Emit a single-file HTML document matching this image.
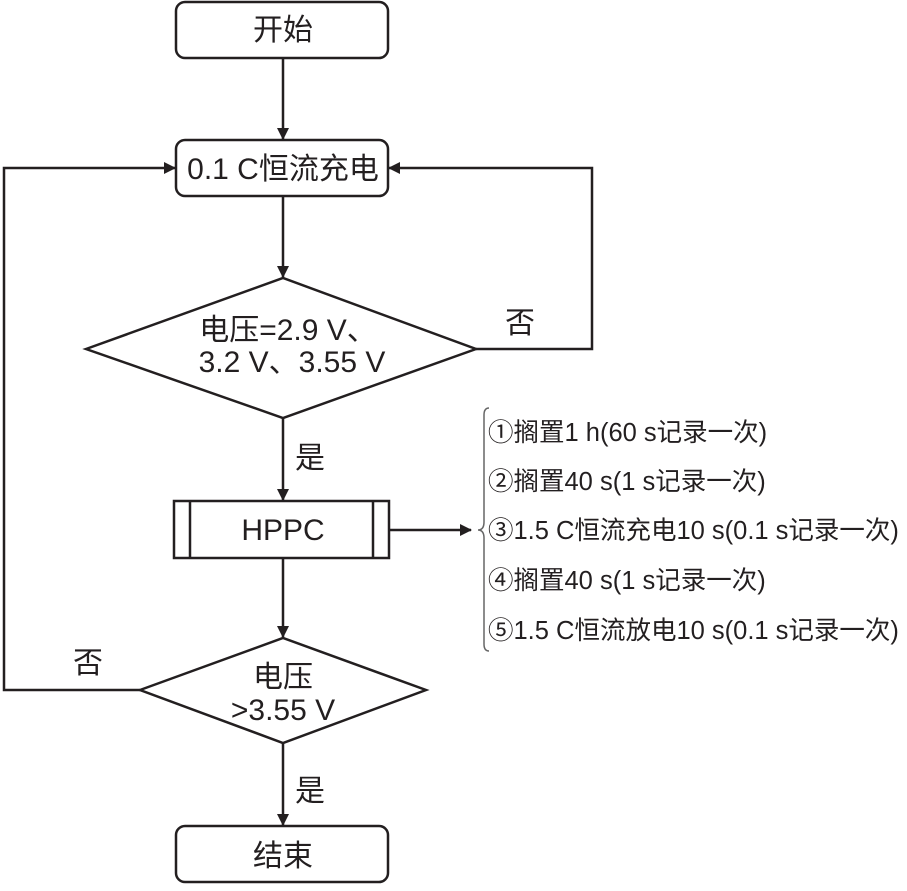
<!DOCTYPE html>
<html><head><meta charset="utf-8"><style>
html,body{margin:0;padding:0;background:#fff;}
text{font-family:"Liberation Sans","Noto Sans CJK SC",sans-serif;fill:#231f20;}
</style></head><body>
<svg width="907" height="886" viewBox="0 0 907 886" xmlns="http://www.w3.org/2000/svg">
<defs><marker id="a" markerWidth="12" markerHeight="12" refX="11" refY="6" orient="auto" markerUnits="userSpaceOnUse"><path d="M0,0 L12,6 L0,12 z" fill="#231f20"/></marker></defs>
<g stroke="#231f20" stroke-width="2.5" fill="none">
<rect x="176" y="2" width="212" height="56" rx="9"/>
<rect x="176" y="140" width="212" height="56" rx="9"/>
<polygon points="86,349 283,278 476,349 283,418" fill="#fff"/>
<rect x="174" y="501" width="215" height="57"/>
<line x1="190" y1="501" x2="190" y2="558"/>
<line x1="373" y1="501" x2="373" y2="558"/>
<polygon points="140,690 283,638 426,690 283,743"/>
<rect x="176" y="826" width="212" height="56" rx="9"/>
<line x1="283" y1="58" x2="283" y2="139" marker-end="url(#a)"/>
<line x1="283" y1="196" x2="283" y2="277" marker-end="url(#a)"/>
<line x1="283" y1="418" x2="283" y2="500" marker-end="url(#a)"/>
<line x1="283" y1="558" x2="283" y2="637" marker-end="url(#a)"/>
<line x1="283" y1="743" x2="283" y2="825" marker-end="url(#a)"/>
<polyline points="140,690 4,690 4,168 175,168" marker-end="url(#a)"/>
<polyline points="476,349 592,349 592,168 389,168" marker-end="url(#a)"/>
<line x1="389" y1="530" x2="471" y2="530" marker-end="url(#a)"/>
<path d="M489,408 Q484,408 484,415 L484,522 Q484,530 478,530 Q484,530 484,538 L484,644 Q484,651 489,651" stroke="#666" stroke-width="1.5"/>
</g>
<g font-size="30" text-anchor="middle">
<text x="283" y="40">开始</text>
<text x="283" y="179">0.1 C恒流充电</text>
<text x="288" y="340">电压=2.9 V、</text>
<text x="292" y="372">3.2 V、3.55 V</text>
<text x="283" y="540">HPPC</text>
<text x="283" y="687">电压</text>
<text x="283" y="720">&gt;3.55 V</text>
<text x="283" y="866">结束</text>
<text x="520" y="333">否</text>
<text x="310" y="468">是</text>
<text x="88" y="673">否</text>
<text x="310" y="801">是</text>
</g>
<g font-size="25.5">
<text x="488" y="441">①搁置1 h(60 s记录一次)</text>
<text x="488" y="490">②搁置40 s(1 s记录一次)</text>
<text x="488" y="539">③1.5 C恒流充电10 s(0.1 s记录一次)</text>
<text x="488" y="589">④搁置40 s(1 s记录一次)</text>
<text x="488" y="639">⑤1.5 C恒流放电10 s(0.1 s记录一次)</text>
</g>
</svg>
</body></html>
